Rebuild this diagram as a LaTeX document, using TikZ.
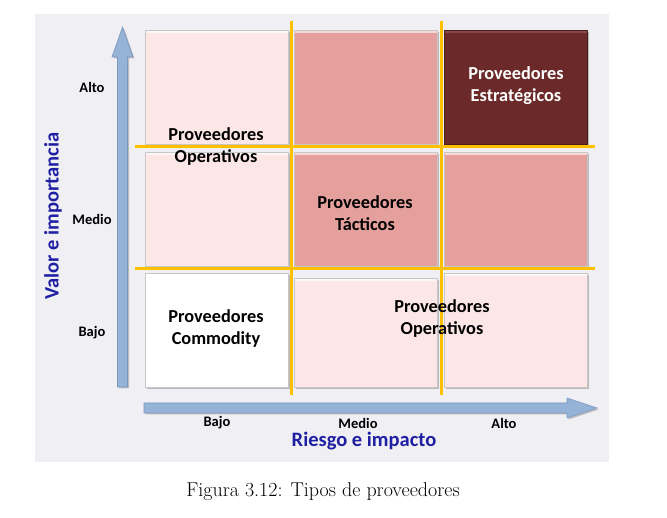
\documentclass[tikz,border=0pt]{standalone}
\usepackage{fontspec}
\newfontfamily\carlito{Carlito}
\usetikzlibrary{shadows}
\definecolor{panel}{HTML}{F0EFF4}
\definecolor{lightpink}{HTML}{FDE7E6}
\definecolor{midpink}{HTML}{E5A09D}
\definecolor{darkred}{HTML}{6B2A29}
\definecolor{gold}{HTML}{FFC000}
\definecolor{axisblue}{HTML}{95B3D7}
\definecolor{axisedge}{HTML}{7A98BE}
\definecolor{titleblue}{HTML}{1F1FA3}
\begin{document}
\begin{tikzpicture}[x=1pt,y=-1pt,
  cell/.style={rectangle, draw=black!22, line width=0.5pt, minimum width=143pt, minimum height=114pt, inner sep=0pt,
    drop shadow={shadow xshift=1.6pt, shadow yshift=-1.6pt, fill=black!45, opacity=0.55},
    path picture={\fill[white,opacity=0.6] (path picture bounding box.north west) rectangle ([yshift=-3pt]path picture bounding box.north east);}},
  lbl/.style={font=\carlito\bfseries\fontsize{18.3}{22}\selectfont, align=center, text=black, inner sep=0pt},
  axlbl/.style={font=\carlito\bfseries\fontsize{14.5}{17}\selectfont, inner sep=0pt},
  axtitle/.style={font=\carlito\bfseries\fontsize{20.5}{24}\selectfont, text=titleblue, inner sep=0pt},
  gline/.style={gold, line width=3pt},
  axarrow/.style={fill=axisblue, draw=axisedge, line width=0.6pt, drop shadow={shadow xshift=1.5pt, shadow yshift=-1.5pt, fill=black!45, opacity=0.5}}]
\useasboundingbox (0,0) rectangle (667,518);
\fill[white] (0,0) rectangle (667,518);
\fill[panel] (35,14) rectangle (609,462);

% axes
\path[axarrow] (117.5,387) -- (117.5,57) -- (112,57) -- (122.5,27) -- (133,57) -- (127.5,57) -- (127.5,387) -- cycle;
\path[axarrow] (144,403) -- (567,403) -- (567,398) -- (597,408) -- (567,418) -- (567,413) -- (144,413) -- cycle;

% cells
\node[cell, fill=lightpink] (c11) at (216.5,87) {};
\node[cell, fill=midpink] (c12) at (366,87) {};
\node[cell, fill=darkred, draw=darkred!70!black, path picture={\fill[white,opacity=0.15] (path picture bounding box.north west) rectangle ([yshift=-3pt]path picture bounding box.north east);}] (c13) at (516,87) {};
\node[cell, fill=lightpink] (c21) at (216.5,209) {};
\node[cell, fill=midpink] (c22) at (366,209) {};
\node[cell, fill=midpink] (c23) at (516,209) {};
\node[cell, fill=white] (c31) at (216.5,330) {};
\node[cell, fill=lightpink, minimum height=109pt] (c32) at (366,332.5) {};
\node[cell, fill=lightpink] (c33) at (516,330) {};

% yellow grid lines
\draw[gline] (291,21) -- (291,395);
\draw[gline] (441,21) -- (441,395);
\draw[gline] (135,147) -- (595,147);
\draw[gline] (135,269) -- (595,269);

% cell texts
\node[lbl] (tOp1) at (216,147) {Proveedores\\Operativos};
\node[lbl] (tTac) at (365,213) {Proveedores\\Tácticos};
\node[lbl, text=white] (tEst) at (516,86) {Proveedores\\Estratégicos};
\node[lbl] (tCom) at (216,329) {Proveedores\\Commodity};
\node[lbl] (tOp2) at (442,319) {Proveedores\\Operativos};

% axis labels
\node[axlbl] (yAlto) at (92,87) {Alto};
\node[axlbl] (yMedio) at (92,219) {Medio};
\node[axlbl] (yBajo) at (92,333) {Bajo};
\node[axlbl] (xBajo) at (217,423) {Bajo};
\node[axlbl] (xMedio) at (358,423) {Medio};
\node[axlbl] (xAlto) at (504,423) {Alto};
\node[axtitle] (xTitle) at (364,441) {Riesgo e impacto};
\node[axtitle, rotate=90] (yTitle) at (53,216) {Valor e importancia};

% caption
\node[font=\fontsize{20}{23}\selectfont, inner sep=0pt] (cap) at (323,492) {Figura 3.12: Tipos de proveedores};
\end{tikzpicture}
\end{document}
